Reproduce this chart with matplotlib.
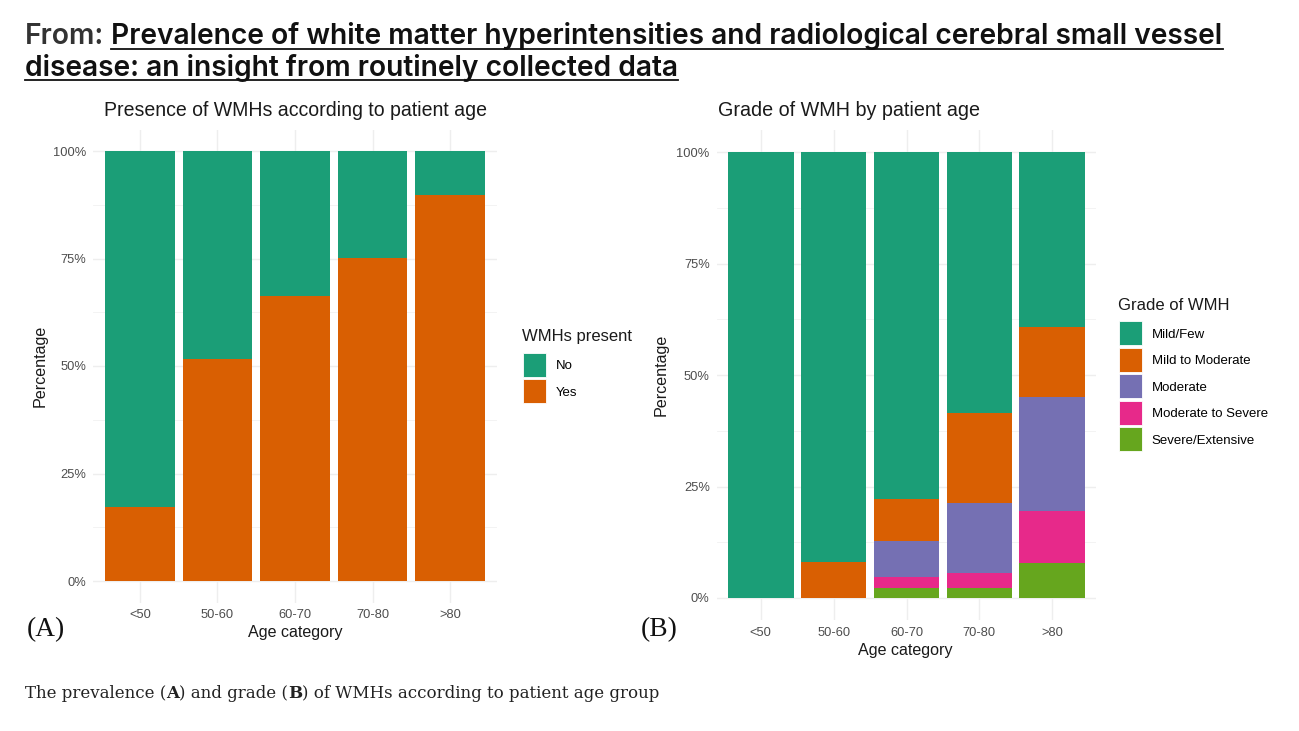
import matplotlib
matplotlib.use('Agg')
import matplotlib.pyplot as plt
from matplotlib.patches import Patch
from matplotlib.lines import Line2D
from matplotlib import font_manager as fm
from matplotlib.font_manager import FontProperties
from matplotlib.textpath import TextPath

# ---------------- data ----------------
age_categories = ['<50', '50-60', '60-70', '70-80', '>80']
wmh_present_labels = ['No', 'Yes']
wmh_no_pct = [82.8, 48.4, 33.7, 24.9, 10.2]
wmh_yes_pct = [17.2, 51.6, 66.3, 75.1, 89.8]

grade_labels = ['Mild/Few', 'Mild to Moderate', 'Moderate', 'Moderate to Severe', 'Severe/Extensive']
grade_mild_few = [100.0, 91.9, 77.7, 58.5, 39.2]
grade_mild_to_moderate = [0.0, 8.1, 9.5, 20.3, 15.7]
grade_moderate = [0.0, 0.0, 8.1, 15.6, 25.5]
grade_moderate_to_severe = [0.0, 0.0, 2.5, 3.4, 11.8]
grade_severe_extensive = [0.0, 0.0, 2.2, 2.2, 7.8]

y_ticks = [0, 25, 50, 75, 100]
y_tick_labels = ['0%', '25%', '50%', '75%', '100%']

dark2 = ['#1B9E77', '#D95F02', '#7570B3', '#E7298A', '#66A61E']

# ---------------- figure ----------------
W, H = 1299, 731
plt.rcParams['font.family'] = ['Liberation Sans', 'DejaVu Sans']
fig = plt.figure(figsize=(W / 100, H / 100), dpi=100)
fig.patch.set_facecolor('white')
renderer = fig.canvas.get_renderer()


def add_axes_px(l, t, r, b):
    return fig.add_axes([l / W, 1 - b / H, (r - l) / W, (b - t) / H])


def style(ax):
    ax.set_xlim(0.4, 5.6)
    ax.set_ylim(-5, 105)
    ax.set_xticks(range(1, 6))
    ax.set_xticklabels(age_categories)
    ax.set_yticks(y_ticks)
    ax.set_yticklabels(y_tick_labels)
    ax.set_yticks([12.5, 37.5, 62.5, 87.5], minor=True)
    ax.grid(True, which='major', color='#EEEEEE', lw=1.0)
    ax.grid(True, which='minor', axis='y', color='#EEEEEE', lw=0.5)
    ax.set_axisbelow(True)
    for s in ax.spines.values():
        s.set_visible(False)
    ax.tick_params(axis='both', which='both', length=0, labelsize=9.3, labelcolor='#4D4D4D')
    ax.tick_params(axis='y', pad=5.3)
    ax.tick_params(axis='x', pad=4.5)


x = list(range(1, 6))

# ---- Panel A ----
axA = add_axes_px(93.4, 129.5, 496.6, 602.5)
style(axA)
axA.bar(x, wmh_yes_pct, width=0.9, color=dark2[1], lw=0, label='Yes')
axA.bar(x, wmh_no_pct, width=0.9, bottom=wmh_yes_pct, color=dark2[0], lw=0, label='No')

# ---- Panel B ----
axB = add_axes_px(717.1, 129.7, 1095.9, 620.3)
style(axB)
grade_series = [grade_severe_extensive, grade_moderate_to_severe, grade_moderate,
                grade_mild_to_moderate, grade_mild_few]
grade_colors = [dark2[4], dark2[3], dark2[2], dark2[1], dark2[0]]
bottom = [0.0] * 5
for vals, col in zip(grade_series, grade_colors):
    axB.bar(x, vals, width=0.9, bottom=bottom, color=col, lw=0)
    bottom = [b + v for b, v in zip(bottom, vals)]


def px(xp, yp):
    return xp / W, 1 - yp / H


# titles and axis labels
fig.text(*px(104.5, 110), 'Presence of WMHs according to patient age', fontsize=14.05,
         color='#1A1A1A', ha='left', va='center')
fig.text(*px(717.5, 110), 'Grade of WMH by patient age', fontsize=14.2,
         color='#1A1A1A', ha='left', va='center')

for ax, (xl, yl), (xx, yx) in [(axA, (40, 366), (295, 632)), (axB, (661, 375), (905, 651))]:
    ax.set_ylabel('Percentage', fontsize=11.6, color='#1A1A1A', va='center', ha='center')
    ax.set_xlabel('Age category', fontsize=11.6, color='#1A1A1A', va='center', ha='center')
    ax.yaxis.set_label_coords(*ax.transAxes.inverted().transform((xl, H - yl)))
    ax.xaxis.set_label_coords(*ax.transAxes.inverted().transform((xx, H - yx)))

# legends (titles drawn as separate text for exact spacing)
leg_kw = dict(loc='upper left', frameon=False, fontsize=9.5, handlelength=1.8,
              handleheight=2.42, labelspacing=0.19, handletextpad=0.72,
              borderpad=0, borderaxespad=0)
fig.text(*px(522.5, 337), 'WMHs present', fontsize=12, color='#1A1A1A', ha='left', va='center')
fig.legend(handles=[Patch(facecolor=dark2[0], edgecolor='white', lw=0.6, label='No'),
                    Patch(facecolor=dark2[1], edgecolor='white', lw=0.6, label='Yes')],
           bbox_to_anchor=px(522.5, 353), **leg_kw)
fig.text(*px(1118, 305), 'Grade of WMH', fontsize=12, color='#1A1A1A', ha='left', va='center')
fig.legend(handles=[Patch(facecolor=c, edgecolor='white', lw=0.6, label=l)
                    for c, l in zip(dark2, grade_labels)],
           bbox_to_anchor=px(1118.5, 321.5), **leg_kw)


# ---------------- header, caption, panel letters ----------------
def text_width(s, fp, size):
    f = fp.copy()
    f.set_size(size)
    t = fig.text(0, 0, s, fontproperties=f)
    w = t.get_window_extent(renderer).width
    t.remove()
    return w


def fit(s, fp, target):
    return 20 * target / text_width(s, fp, 20)


line1_a = 'From:'
line1_b = 'Prevalence of white matter hyperintensities and radiological cerebral small vessel'
line2 = 'disease: an insight from routinely collected data'
full1 = line1_a + ' ' + line1_b
TARGET_W, TARGET_CAP = 1202.0, 20.8


def pick_header_font():
    best, best_err = None, 1e9
    seen = set()
    for e in fm.fontManager.ttflist:
        fn = e.fname.lower()
        if fn in seen or e.style != 'normal':
            continue
        if not any(k in fn for k in ['noto', 'roboto', 'opensans', 'open-sans', 'lato', 'inter',
                                      'liberation', 'dejavu']):
            continue
        if 'cjk' in fn or 'serif' in fn or 'mono' in fn or 'display' in fn:
            continue
        w = e.weight
        try:
            w = int(w)
        except Exception:
            w = 700 if 'bold' in str(w).lower() else 400
        if w < 600 or w > 750:
            continue
        seen.add(fn)
        try:
            fp = FontProperties(fname=e.fname)
            size = fit(full1, fp, TARGET_W)
            fp2 = fp.copy()
            fp2.set_size(size * 100 / 72)
            cap = TextPath((0, 0), 'H', prop=fp2).get_extents().height
        except Exception:
            continue
        err = abs(cap - TARGET_CAP)
        if err < best_err:
            best, best_err = fp, err
    if best is None:
        best = FontProperties(family='Liberation Sans', weight='bold')
    return best


hfp = pick_header_font()
hsize = fit(full1, hfp, TARGET_W)
hf = hfp.copy()
hf.set_size(hsize)
space_w = text_width('a a', hfp, hsize) - text_width('aa', hfp, hsize)
wa = text_width(line1_a, hfp, hsize)
wb = text_width(line1_b, hfp, hsize)
w2 = text_width(line2, hfp, hsize)

fig.text(*px(25, 43.5), line1_a, fontproperties=hf, color='#333333', ha='left', va='baseline')
xb = 25 + wa + space_w
fig.text(*px(xb, 43.5), line1_b, fontproperties=hf, color='#111111', ha='left', va='baseline')
fig.text(*px(25, 75.5), line2, fontproperties=hf, color='#111111', ha='left', va='baseline')
fig.add_artist(Line2D([xb / W, (xb + wb) / W], [1 - 48.5 / H] * 2, color='#111111', lw=1.3))
fig.add_artist(Line2D([25 / W, (25 + w2) / W], [1 - 80 / H] * 2, color='#111111', lw=1.3))

# caption with bold A and B
serif = FontProperties(family='DejaVu Serif')
serif_b = FontProperties(family='DejaVu Serif', weight='bold')
segs = [('The prevalence (', serif), ('A', serif_b), (') and grade (', serif), ('B', serif_b),
        (') of WMHs according to patient age group', serif)]
whole = ''.join(s for s, _ in segs)
csize = fit(whole, serif, 632)
xc = 25.0
for s, fp in segs:
    f = fp.copy()
    f.set_size(csize)
    fig.text(*px(xc, 697.5), s, fontproperties=f, color='#222222', ha='left', va='baseline')
    xc += text_width(s + 'a', fp, csize) - text_width('a', fp, csize)

# panel letters
lfp = FontProperties(family='Liberation Serif')
lsize = fit('(A)', lfp, 38)
lf = lfp.copy()
lf.set_size(lsize)
fig.text(*px(26.5, 630), '(A)', fontproperties=lf, color='#111111', ha='left', va='center')
fig.text(*px(640.5, 630), '(B)', fontproperties=lf, color='#111111', ha='left', va='center')

fig.savefig('out.png', dpi=100, facecolor='white')
